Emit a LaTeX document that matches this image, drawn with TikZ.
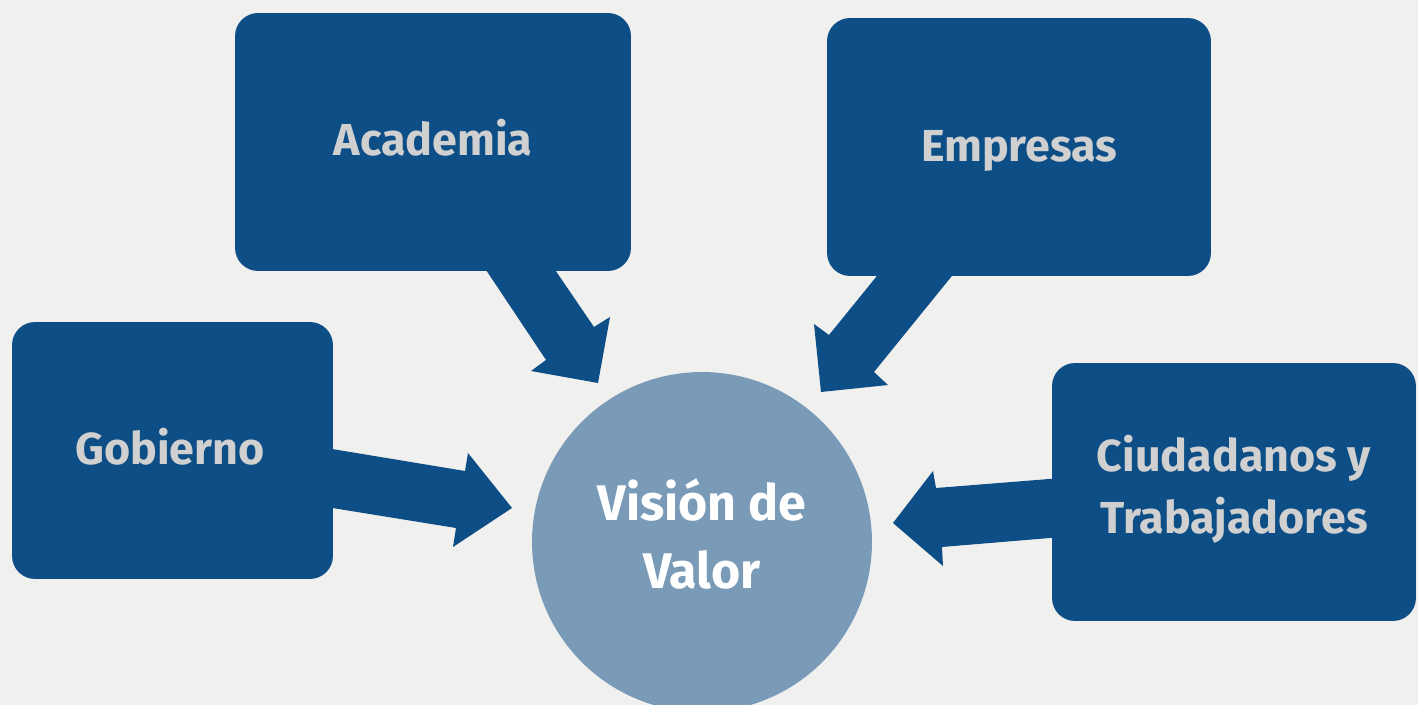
\documentclass[tikz,border=0pt]{standalone}
\usepackage{fontspec}
\setmainfont{Fira Sans}
\begin{document}
\begin{tikzpicture}[x=0.02cm,y=-0.02cm]
\definecolor{boxblue}{HTML}{0E4E87}
\definecolor{circblue}{HTML}{7A9BB8}
\definecolor{bgcol}{HTML}{F0F0EE}
\definecolor{txtgray}{HTML}{D0D0D0}
\tikzset{
  box/.style={fill=boxblue, rounded corners=0.46cm, inner sep=0pt},
  boxtext/.style={inner sep=0pt, align=center, text=txtgray,
    font=\fontsize{25.5}{35.3}\selectfont\bfseries},
  blockarrow/.style={fill=boxblue},
  center/.style={circle, fill=circblue, inner sep=0pt, minimum size=6.8cm},
  centertext/.style={inner sep=0pt, align=center, text=white,
    font=\fontsize{28.5}{38.7}\selectfont\bfseries}
}
\useasboundingbox (0,0) rectangle (1418,705);
\clip (0,0) rectangle (1418,705);
\fill[bgcol] (0,0) rectangle (1418,705);
% block arrows
\fill[blockarrow] (480,261) -- (546,360) -- (531,371) -- (598,383) -- (610,317) -- (594,327) -- (549,261) -- cycle;
\fill[blockarrow] (320,447) -- (465,471) -- (468,453) -- (512,508) -- (453,547) -- (456,528) -- (320,506) -- cycle;
\fill[blockarrow] (960,266) -- (874,372) -- (888,385) -- (821,392) -- (814,324) -- (829,335) -- (885,266) -- cycle;
\fill[blockarrow] (1062,478) -- (936,488) -- (933,471) -- (893,523) -- (943,566) -- (942,547) -- (1062,537) -- cycle;
% boxes
\node[box, minimum width=7.92cm, minimum height=5.16cm] (acad) at (433,142) {};
\node[box, minimum width=6.42cm, minimum height=5.14cm] (gob) at (172.5,450.5) {};
\node[box, minimum width=7.68cm, minimum height=5.16cm] (emp) at (1019,147) {};
\node[box, minimum width=7.28cm, minimum height=5.16cm] (ciu) at (1234,492) {};
\node[boxtext, anchor=base] (acadt) at (433,156) {Academia};
\node[boxtext, anchor=base] (gobt) at (170,465) {Gobierno};
\node[boxtext, anchor=base] (empt) at (1019,162) {Empresas};
\node[boxtext] (ciut) at (1234,489) {Ciudadanos y\\Trabajadores};
% centre
\node[center] (vis) at (702,542) {};
\node[centertext] (vist) at (702,534) {Visión de\\Valor};
\end{tikzpicture}
\end{document}
